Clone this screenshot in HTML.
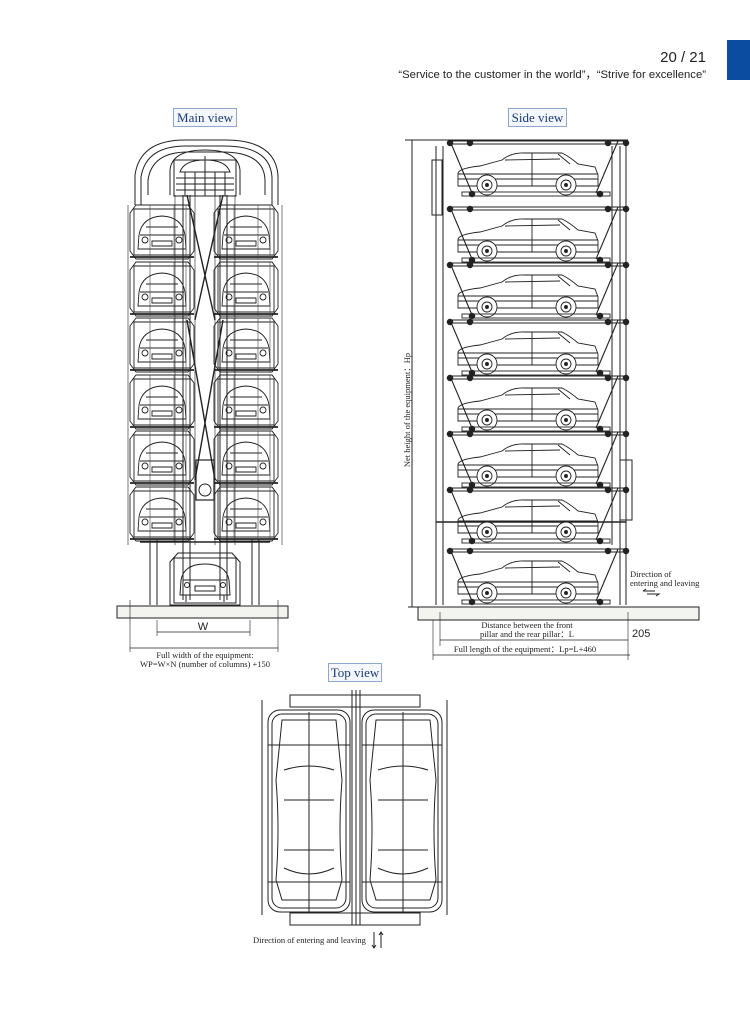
<!DOCTYPE html>
<html><head><meta charset="utf-8"><style>
html,body{margin:0;padding:0;background:#fff;}
body{width:750px;height:1024px;overflow:hidden;position:relative;font-family:"Liberation Serif",serif;}
svg{position:absolute;left:0;top:0;}
</style></head><body>
<svg width="750" height="1024" viewBox="0 0 750 1024" xmlns="http://www.w3.org/2000/svg">
<defs>
<g id="scar" fill="none" stroke="#222" stroke-width="0.9">
  <path d="M18,42 L18,32 Q20,27 40,25 L62,19 Q72,11 85,12 L122,12 Q130,16 138,23 L155,26 L158,34 L158,45 L18,45 Z"/>
  <path d="M65,19 L120,18 M92,12 L92,45 M118,13 L130,23 M18,33 L158,33 M18,38 L158,38"/>
  <circle cx="47" cy="44" r="10" fill="#fff"/><circle cx="47" cy="44" r="5"/><circle cx="47" cy="44" r="1.5" fill="#222"/>
  <circle cx="126" cy="44" r="10" fill="#fff"/><circle cx="126" cy="44" r="5"/><circle cx="126" cy="44" r="1.5" fill="#222"/>
  <rect x="22" y="51" width="148" height="4"/>
  <path d="M10,0 L188,0 M10,3 L188,3 M10,0 L32,52 M178,0 L156,52" stroke-width="1.1"/>
  <circle cx="10" cy="2" r="2.8" fill="#222"/><circle cx="30" cy="2" r="2.8" fill="#222"/>
  <circle cx="168" cy="2" r="2.8" fill="#222"/><circle cx="186" cy="2" r="2.8" fill="#222"/>
  <circle cx="32" cy="53" r="2.8" fill="#222"/><circle cx="160" cy="53" r="2.8" fill="#222"/>
</g>
<g id="pod" fill="none" stroke="#222" stroke-width="0.9">
  <path d="M6,0 L58,0 L64,8 L64,46 L58,54 L6,54 L0,46 L0,8 Z"/>
  <path d="M4,4 L60,4 L60,50 L4,50 Z"/>
  <path d="M9,30 Q12,12 32,11 Q52,12 55,30 L56,44 L8,44 Z"/>
  <path d="M16,22 L48,22 M10,30 L54,30 M22,36 L42,36 L42,41 L22,41 Z"/>
  <circle cx="15" cy="35" r="3"/><circle cx="49" cy="35" r="3"/>
  <path d="M0,52 L64,52" stroke-width="1.8"/>
  <path d="M20,0 L20,54 M44,0 L44,54 M56,0 L56,54" stroke="#444" stroke-width="0.6"/>
</g>
</defs>

<rect x="727" y="40" width="23" height="40" fill="#0b4ca0"/>
<text x="706" y="62" font-family="Liberation Sans,sans-serif" font-size="15" fill="#222" text-anchor="end">20 / 21</text>
<text x="706" y="78" font-family="Liberation Sans,sans-serif" font-size="11.3" fill="#222" text-anchor="end">“Service to the customer in the world”，“Strive for excellence”</text>

<g font-size="13" fill="#1a3a7a">
<rect x="173.5" y="108.5" width="63" height="18" fill="#f4f7fc" stroke="#8ea6d0"/>
<text x="205" y="122" text-anchor="middle">Main view</text>
<rect x="508.5" y="108.5" width="58" height="18" fill="#f4f7fc" stroke="#8ea6d0"/>
<text x="537.5" y="122" text-anchor="middle">Side view</text>
<rect x="328.5" y="663.5" width="53" height="18" fill="#f4f7fc" stroke="#8ea6d0"/>
<text x="355" y="677" text-anchor="middle">Top view</text>
</g>

<!-- MAIN VIEW -->
<g fill="none" stroke="#222" stroke-width="1">
  <path d="M135,205 L135,175 Q140,140 185,140 L225,140 Q275,140 278,175 L278,205"/>
  <path d="M141,205 L141,177 Q146,146 186,146 L224,146 Q270,146 272,177 L272,205"/>
  <path d="M148,195 L148,180 Q152,152 188,152 L222,152 Q264,152 265,180 L265,195"/>
  <path d="M170,195 L170,170 Q172,150 205,150 Q238,150 240,170 L240,195"/>
  <rect x="174" y="160" width="62" height="36"/>
  <path d="M180,172 Q184,160 205,160 Q226,160 230,172 Z"/>
  <path d="M176,178 L234,178 M176,184 L234,184 M176,190 L234,190 M185,172 L185,196 M195,172 L195,196 M205,156 L205,196 M215,172 L215,196 M225,172 L225,196"/>
  <path d="M183,195 L183,600 M190,195 L190,600 M220,195 L220,600 M227,195 L227,600 M150,540 L150,605 M157,540 L157,605 M252,540 L252,605 M259,540 L259,605"/>
  <path d="M195,195 L195,545 M215,195 L215,545 M175,195 L175,545 M235,195 L235,545" stroke-width="0.6"/>
  <path d="M187,195 L215,320 M223,195 L195,320 M187,320 L215,480 M223,320 L195,480" stroke-width="1.4"/>
  <use href="#pod" x="130" y="205"/><use href="#pod" x="214" y="205"/>
  <use href="#pod" x="130" y="262"/><use href="#pod" x="214" y="262"/>
  <use href="#pod" x="130" y="318"/><use href="#pod" x="214" y="318"/>
  <use href="#pod" x="130" y="375"/><use href="#pod" x="214" y="375"/>
  <use href="#pod" x="130" y="431"/><use href="#pod" x="214" y="431"/>
  <use href="#pod" x="130" y="487"/><use href="#pod" x="214" y="487"/>
  <path d="M128,205 L128,545 M282,205 L282,545" stroke-width="0.6"/>
  <rect x="196" y="460" width="18" height="40" stroke-width="1.2"/>
  <circle cx="205" cy="490" r="6"/>
  <path d="M178,553 L232,553 L240,562 L240,605 L170,605 L170,562 Z"/>
  <path d="M174,558 L236,558 L236,603 L174,603 Z"/>
  <path d="M181,580 Q184,564 205,564 Q226,564 229,580 L230,595 L180,595 Z"/>
  <path d="M183,580 L227,580 M195,586 L215,586 L215,591 L195,591 Z M186,595 L186,602 M224,595 L224,602"/>
  <circle cx="187" cy="585" r="2.5"/><circle cx="223" cy="585" r="2.5"/>
  <path d="M140,542 L270,542" stroke-width="1.6"/>
  <rect x="117" y="606" width="171" height="12" fill="#f3f3f0"/>
  <path d="M130,600 L130,652 M278,600 L278,652 M157,620 L157,636 M250,620 L250,636" stroke-width="0.6"/>
  <path d="M157,632 L250,632 M130,648 L278,648" stroke-width="0.7"/>
</g>
<text x="203" y="630" font-family="Liberation Sans,sans-serif" font-size="11" text-anchor="middle" fill="#222">W</text>
<text x="205" y="658" font-size="8.5" text-anchor="middle" fill="#222">Full width of the equipment:</text>
<text x="205" y="667" font-size="8.5" text-anchor="middle" fill="#222">WP=W×N (number of columns) +150</text>

<!-- SIDE VIEW -->
<g fill="none" stroke="#222" stroke-width="1">
  <path d="M405,140 L628,140 M412,140 L412,607 M408,607 L418,607"/>
  <path d="M436,146 L436,605 M443,146 L443,605 M620,146 L620,605 M626,146 L626,605 M612,146 L612,545"/>
  <rect x="432" y="160" width="10" height="55"/>
  <path d="M620,460 L632,460 L632,520 L620,520"/>
  <path d="M436,522 L626,522" stroke-width="1.4"/>
  <use href="#scar" x="440" y="141"/>
  <use href="#scar" x="440" y="207"/>
  <use href="#scar" x="440" y="263"/>
  <use href="#scar" x="440" y="320"/>
  <use href="#scar" x="440" y="376"/>
  <use href="#scar" x="440" y="432"/>
  <use href="#scar" x="440" y="488"/>
  <use href="#scar" x="440" y="549"/>
  <rect x="418" y="607" width="281" height="13" fill="#f3f3f0"/>
  <path d="M440,612 L440,646 M628,612 L628,660 M433,620 L433,660" stroke-width="0.6"/>
  <path d="M440,640 L628,640 M433,655 L630,655" stroke-width="0.7"/>
  <path d="M643,591 L655,591 M643,591 L646,589 M647,594 L659,594 L656,596"/>
</g>
<text transform="translate(410,410) rotate(-90)" font-size="8.5" text-anchor="middle" fill="#222">Net height of the equipment：Hp</text>
<text x="630" y="577" font-size="8.5" fill="#222">Direction of</text>
<text x="630" y="586" font-size="8.5" fill="#222">entering and leaving</text>
<text x="527" y="628" font-size="8.5" text-anchor="middle" fill="#222">Distance between the front</text>
<text x="527" y="637" font-size="8.5" text-anchor="middle" fill="#222">pillar and the rear pillar：L</text>
<text x="632" y="637" font-family="Liberation Sans,sans-serif" font-size="11" fill="#222">205</text>
<text x="525" y="652" font-size="8.5" text-anchor="middle" fill="#222">Full length of the equipment：Lp=L+460</text>

<!-- TOP VIEW -->
<g fill="none" stroke="#222" stroke-width="1">
  <rect x="290" y="695" width="130" height="12"/>
  <rect x="290" y="913" width="130" height="12"/>
  <path d="M352,690 L352,925 M356,690 L356,925 M360,690 L360,925"/>
  <path d="M262,700 L262,915 M447,700 L447,915"/>
  <rect x="268" y="710" width="82" height="202" rx="12"/>
  <rect x="272" y="714" width="74" height="194" rx="10"/>
  <rect x="362" y="710" width="80" height="202" rx="12"/>
  <rect x="366" y="714" width="72" height="194" rx="10"/>
  <path d="M282,720 L336,720 L342,780 Q338,830 342,880 L336,900 L282,900 L276,880 Q280,830 276,780 Z"/>
  <path d="M284,770 Q309,762 334,770 M284,800 L334,800 M284,850 L334,850 M284,868 Q309,880 334,868"/>
  <path d="M376,720 L430,720 L436,780 Q432,830 436,880 L430,900 L376,900 L370,880 Q374,830 370,780 Z"/>
  <path d="M378,770 Q403,762 428,770 M378,800 L428,800 M378,850 L428,850 M378,868 Q403,880 428,868"/>
  <path d="M309,712 L309,912 M403,712 L403,912 M268,745 L350,745 M268,882 L350,882 M362,745 L442,745 M362,882 L442,882"/>
  <path d="M374,932 L374,948 M372,945 L374,948 L376,945 M381,948 L381,932 M379,935 L381,932 L383,935"/>
</g>
<text x="253" y="943" font-size="8.5" fill="#222">Direction of entering and leaving</text>
</svg>
</body></html>
